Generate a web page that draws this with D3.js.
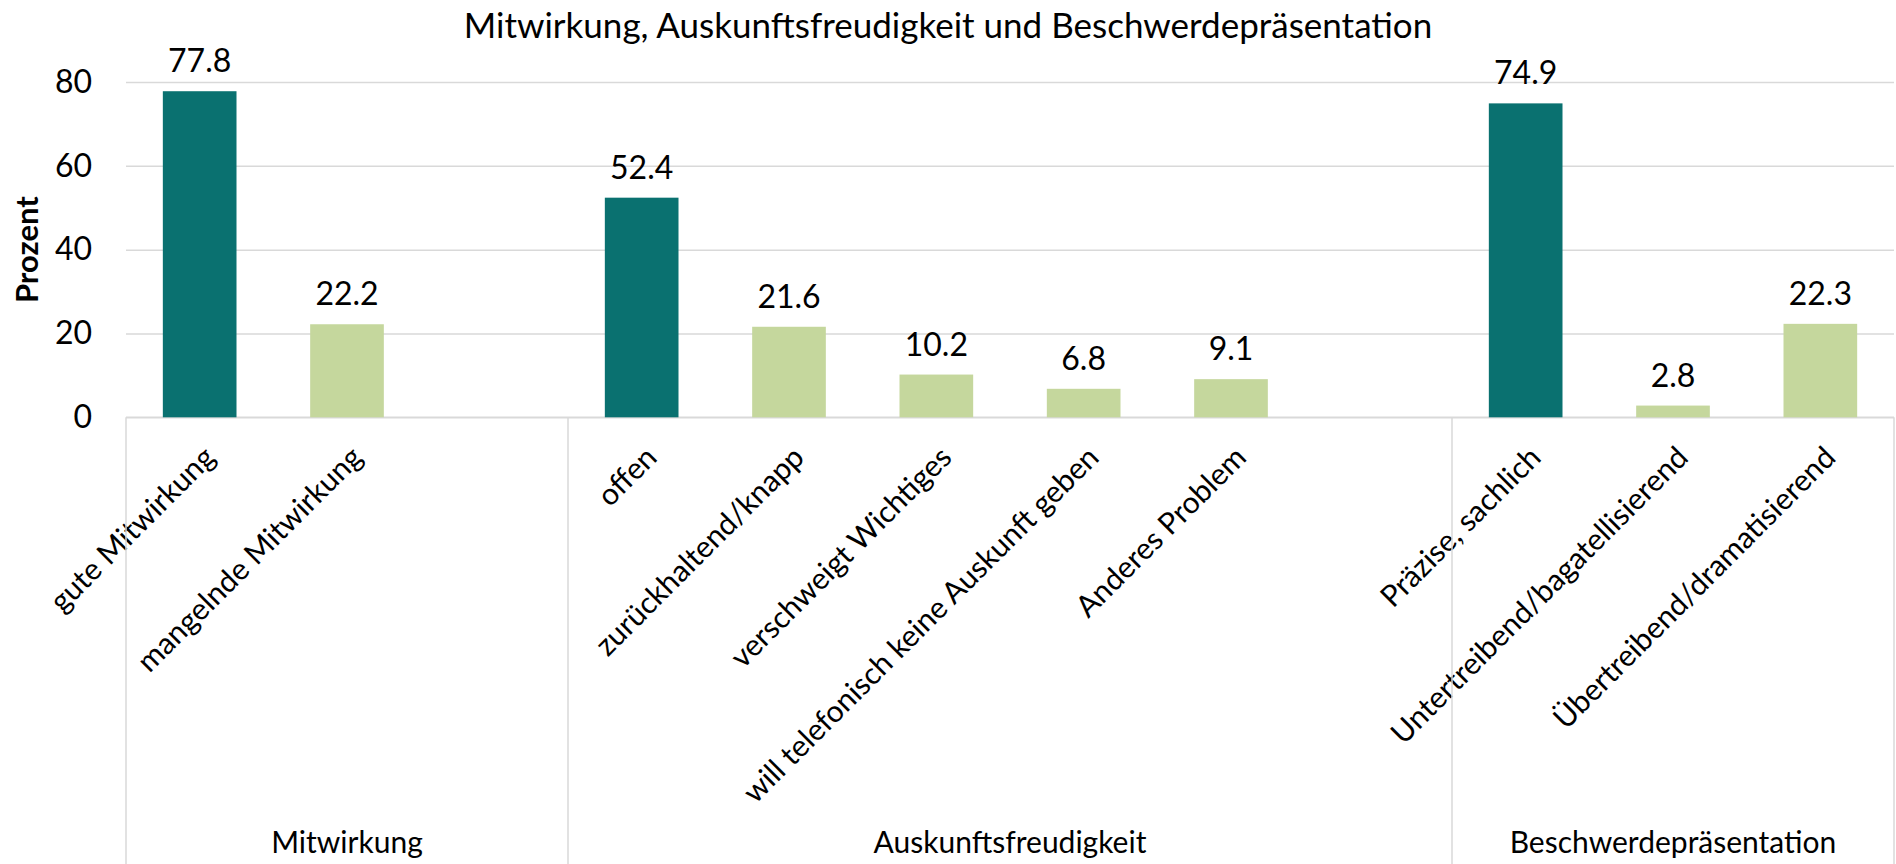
<!DOCTYPE html>
<html>
<head>
<meta charset="utf-8">
<script src="https://cdn.jsdelivr.net/npm/d3@7"></script>
<style>
  body { margin: 0; background: #fff; }
  text { font-family: Lato, "Open Sans", sans-serif; fill: #000; }
</style>
</head>
<body>
<script>
const groups = ["Mitwirkung", "Auskunftsfreudigkeit", "Beschwerdepräsentation"];
const categories = [
  "gute Mitwirkung",
  "mangelnde Mitwirkung",
  "offen",
  "zurückhaltend/knapp",
  "verschweigt Wichtiges",
  "will telefonisch keine Auskunft geben",
  "Anderes Problem",
  "Präzise, sachlich",
  "Untertreibend/bagatellisierend",
  "Übertreibend/dramatisierend",
];
const categoryGroup = [0, 0, 1, 1, 1, 1, 1, 2, 2, 2];
const values = [77.8, 22.2, 52.4, 21.6, 10.2, 6.8, 9.1, 74.9, 2.8, 22.3];
const yTicks = [0, 20, 40, 60, 80];

const w = 1896;
const h = 864;
const plotLeft = 126;
const plotRight = 1894;
const plotTop = 82;
const plotBase = 417.3;

const dark = "#0a7170";
const light = "#c5d79d";
const grid = "#d9d9d9";

// slots: categories of each group, followed by an empty slot (except after the last group)
const slots = [];
groups.forEach((g, gi) => {
  categories.forEach((c, i) => {
    if (categoryGroup[i] === gi) slots.push({ key: c, group: gi, index: i });
  });
  if (gi < groups.length - 1) slots.push({ key: "gap" + gi, group: gi, index: -1 });
});

const svg = d3.select("body").append("svg").attr("width", w).attr("height", h);

const x = d3.scaleBand()
  .domain(slots.map((s) => s.key))
  .range([plotLeft, plotRight])
  .paddingInner(0.5)
  .paddingOuter(0.25);

const y = d3.scaleLinear().domain([0, 80]).range([plotBase, plotTop]);

const step = x.step();
const slotLeft = (key) => x(key) - (step - x.bandwidth()) / 2;

// gridlines + y tick labels
const yAxis = d3.axisLeft(y)
  .tickValues(yTicks)
  .tickSize(-(plotRight - plotLeft))
  .tickPadding(34);

const gy = svg.append("g").attr("transform", `translate(${plotLeft},0)`).call(yAxis);
gy.select(".domain").remove();
gy.selectAll(".tick line").attr("stroke", grid).attr("stroke-width", 1.5);
gy.selectAll(".tick text")
  .style("font-family", "Lato, sans-serif")
  .style("font-size", "32px")
  .attr("fill", "#000");

// x axis with rotated category labels
const xAxis = d3.axisBottom(x)
  .tickSize(0)
  .tickFormat((k) => (k.startsWith("gap") ? "" : k));

const gx = svg.append("g").attr("transform", `translate(0,${plotBase})`).call(xAxis);
gx.select(".domain").attr("stroke", grid).attr("stroke-width", 1.5).attr("d", `M${plotLeft},0H${plotRight}`);
gx.selectAll(".tick text")
  .attr("x", 0)
  .attr("y", 0)
  .attr("dy", 0)
  .attr("text-anchor", "end")
  .attr("transform", "translate(17,42) rotate(-45)")
  .style("font-family", "Lato, sans-serif")
  .style("font-size", "30px")
  .attr("fill", "#000");

// group separators
const bounds = [];
groups.forEach((g, gi) => {
  const gs = slots.filter((s) => s.group === gi);
  const x0 = slotLeft(gs[0].key);
  const x1 = slotLeft(gs[gs.length - 1].key) + step;
  bounds.push({ name: g, x0, x1 });
});
const sepX = [bounds[0].x0, ...bounds.map((b) => b.x1)];

svg.append("g")
  .selectAll("line")
  .data(sepX)
  .join("line")
  .attr("x1", (d) => d)
  .attr("x2", (d) => d)
  .attr("y1", plotBase)
  .attr("y2", h)
  .attr("stroke", grid)
  .attr("stroke-width", 1.5);

svg.append("g")
  .selectAll("text")
  .data(bounds)
  .join("text")
  .attr("x", (d) => (d.x0 + d.x1) / 2)
  .attr("y", 853)
  .attr("text-anchor", "middle")
  .style("font-size", "30px")
  .text((d) => d.name);

// bars
const bars = slots.filter((s) => s.index >= 0);
const firstInGroup = (s) => categoryGroup.indexOf(s.group) === s.index;

svg.append("g")
  .selectAll("rect")
  .data(bars)
  .join("rect")
  .attr("x", (d) => x(d.key))
  .attr("y", (d) => y(values[d.index]))
  .attr("width", x.bandwidth())
  .attr("height", (d) => y(0) - y(values[d.index]))
  .attr("fill", (d) => (firstInGroup(d) ? dark : light));

svg.append("g")
  .selectAll("text")
  .data(bars)
  .join("text")
  .attr("x", (d) => x(d.key) + x.bandwidth() / 2)
  .attr("y", (d) => y(values[d.index]) - 19)
  .attr("text-anchor", "middle")
  .style("font-size", "32px")
  .text((d) => values[d.index].toFixed(1));

// title
svg.append("text")
  .attr("x", w / 2)
  .attr("y", 38)
  .attr("text-anchor", "middle")
  .style("font-size", "35px")
  .text("Mitwirkung, Auskunftsfreudigkeit und Beschwerdepräsentation");

// y axis title
svg.append("text")
  .attr("transform", `translate(38,${(plotTop + plotBase) / 2}) rotate(-90)`)
  .attr("text-anchor", "middle")
  .style("font-size", "31px")
  .style("font-weight", "bold")
  .text("Prozent");
</script>
</body>
</html>
